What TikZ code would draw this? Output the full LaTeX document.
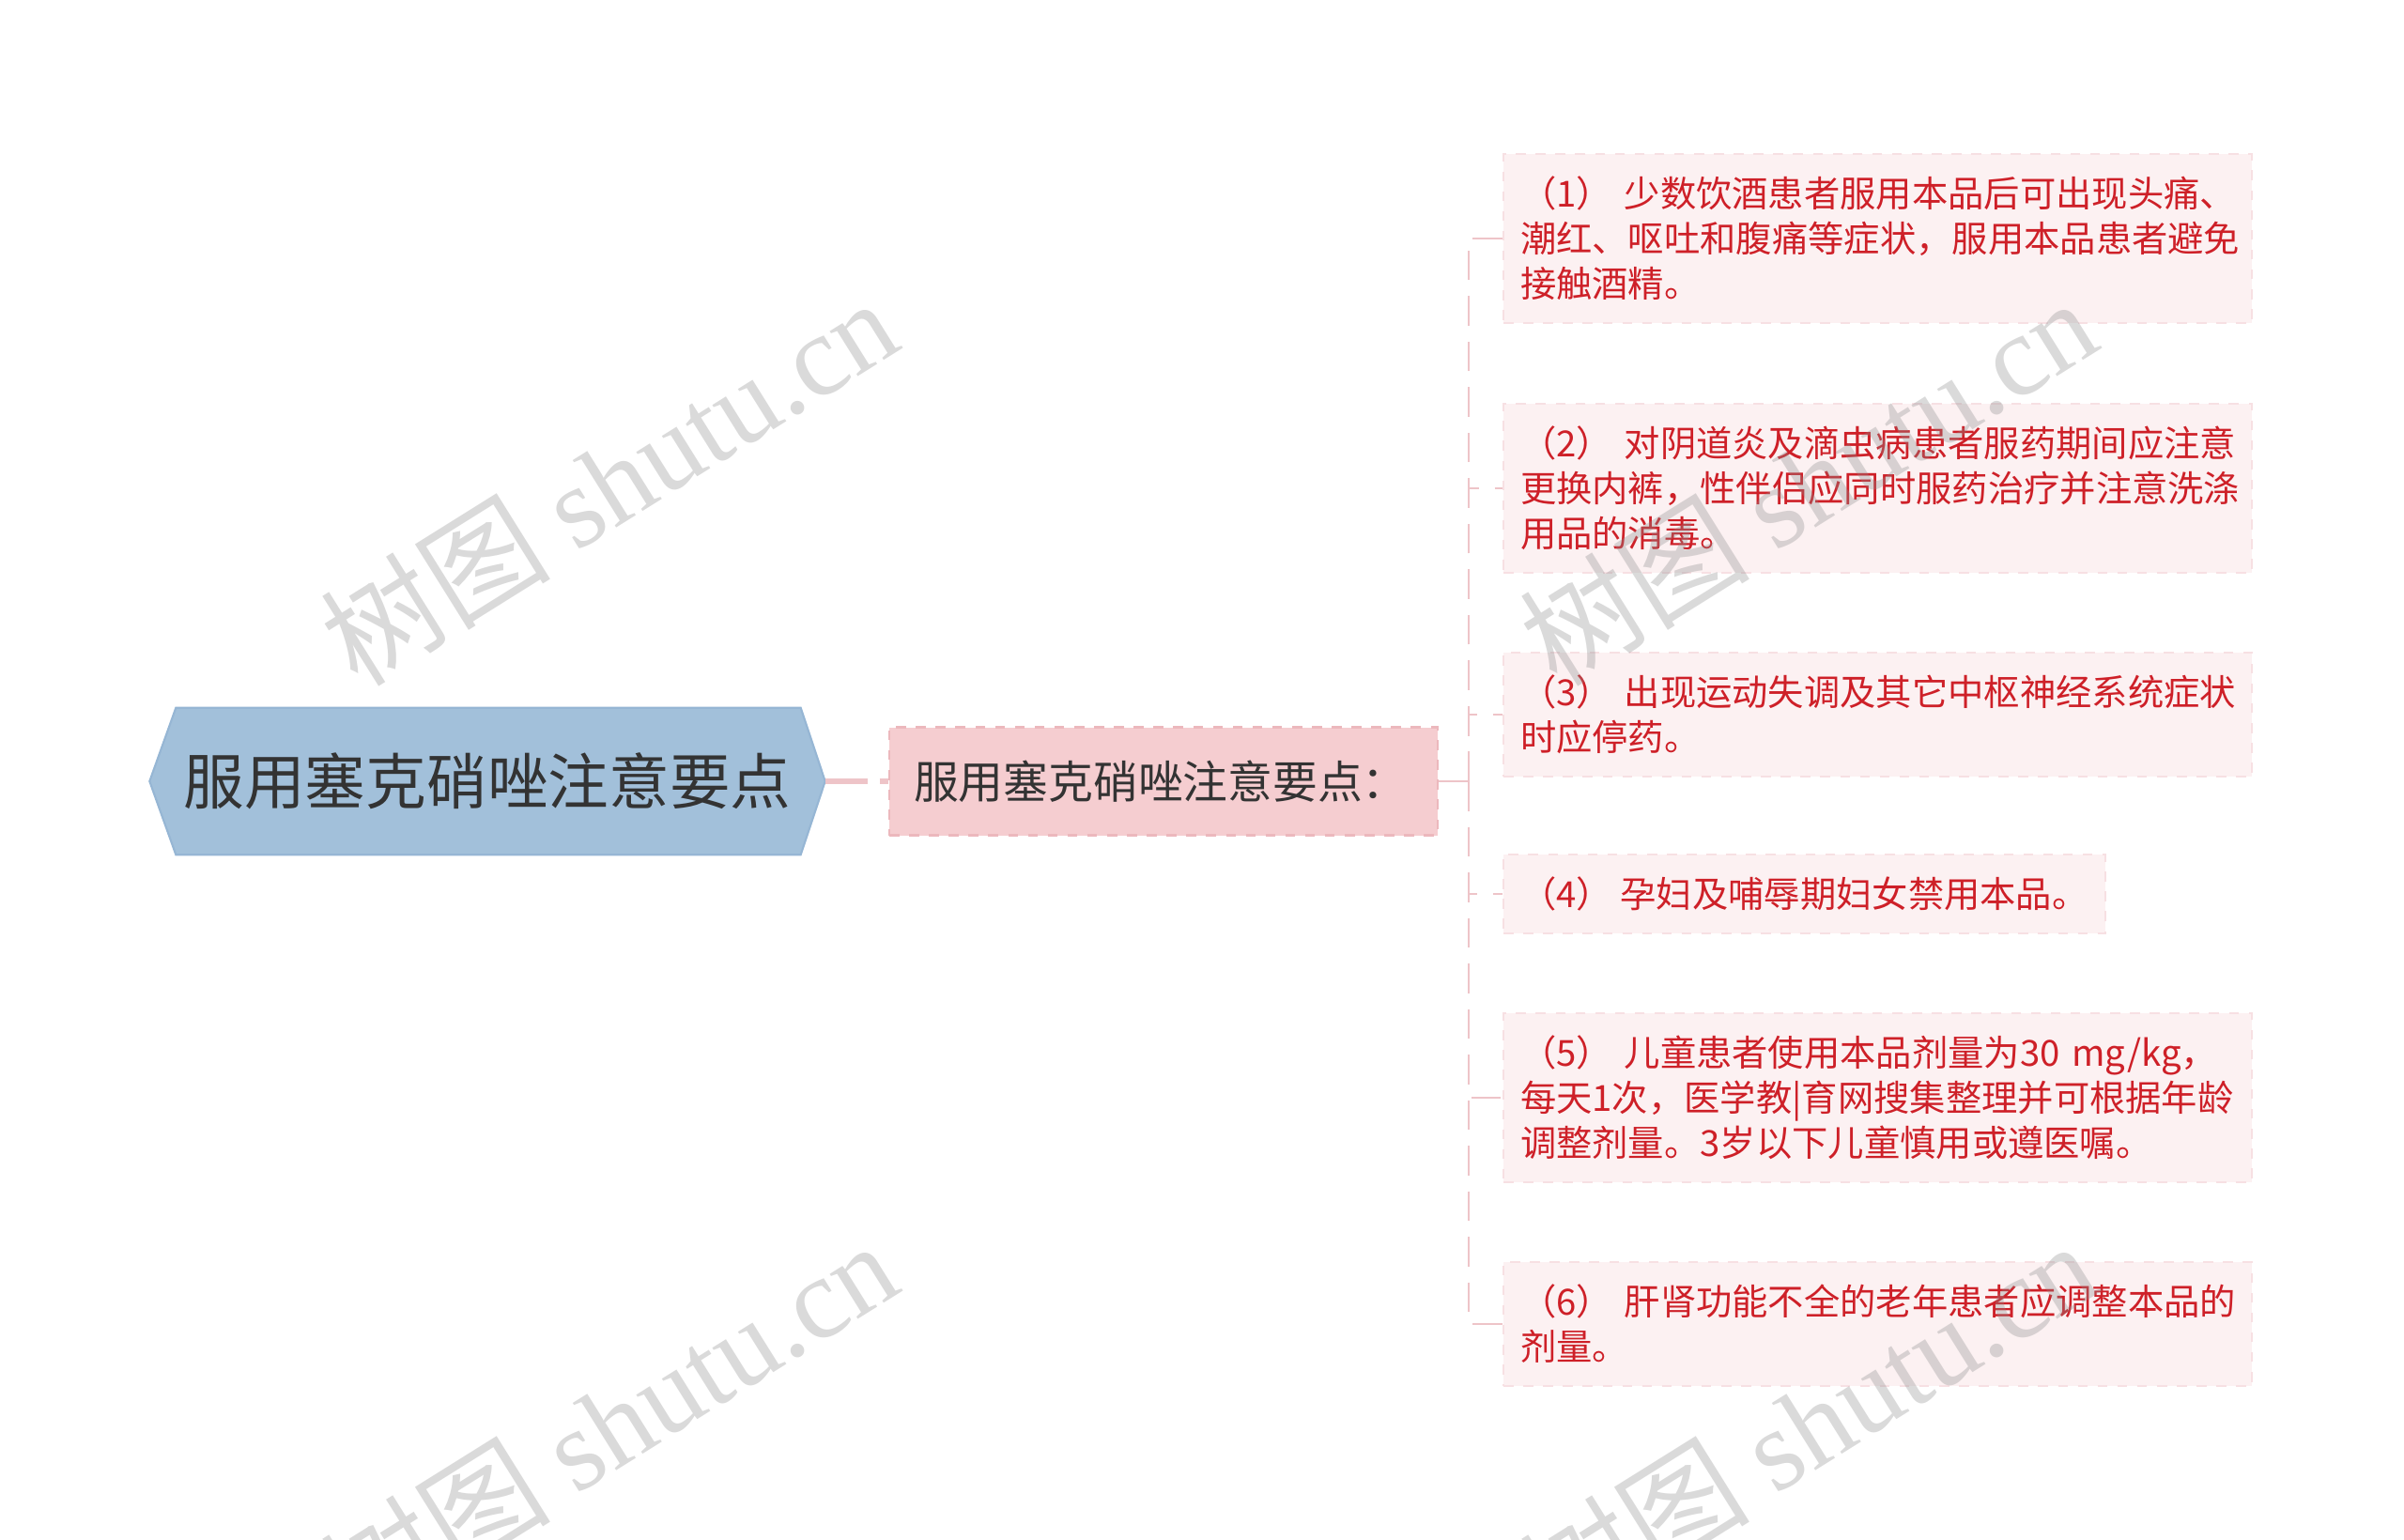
\documentclass[tikz,border=0pt]{standalone}
\usepackage{fontspec}
\setmainfont{Noto Sans CJK SC}
\newfontfamily\wmserif{Liberation Serif}
\usetikzlibrary{backgrounds}
\definecolor{rootfill}{RGB}{162,192,218}
\definecolor{rootedge}{RGB}{150,182,212}
\definecolor{darktext}{RGB}{51,51,51}
\definecolor{subfill}{RGB}{245,205,208}
\definecolor{subedge}{RGB}{236,184,189}
\definecolor{leaffill}{RGB}{252,241,242}
\definecolor{leafedge}{RGB}{247,224,227}
\definecolor{leafred}{RGB}{206,32,40}
\definecolor{linkpink}{RGB}{238,196,200}
\begin{document}
\begin{tikzpicture}
\tikzset{rootnode/.style={text=darktext, font=\fontsize{18.4pt}{22pt}\selectfont, minimum width=7.18cm, minimum height=1.55cm, inner sep=0pt},
subnode/.style={fill=subfill, draw=subedge, dashed, line width=0.8pt, text=darktext, font=\fontsize{13.6pt}{16pt}\selectfont, text width=5.32cm, align=left, inner xsep=0.26cm, minimum height=1.15cm},
leafnode/.style={anchor=west, fill=leaffill, draw=leafedge, dashed, line width=0.6pt, text=leafred, font=\fontsize{10.9pt}{13.66pt}\selectfont, align=left, inner xsep=0.18cm, inner ysep=0.24cm},
wideleaf/.style={leafnode, text width=7.61cm},
linkline/.style={draw=linkpink, line width=1.5pt, dash pattern=on 13pt off 3.5pt},
branchline/.style={draw=linkpink, line width=0.8pt, dash pattern=on 9pt off 4.8pt},
watermark/.style={rotate=32, text=black!45, text opacity=0.32, font=\fontsize{35pt}{40pt}\selectfont}}
\useasboundingbox (0,0) rectangle (25.6,-16.4);
\clip (0,0) rectangle (25.6,-16.4);
\node[rootnode] (root) at (5.19,-8.32) {服用塞克硝唑注意要点};
\begin{scope}[on background layer]
\filldraw[fill=rootfill, draw=rootedge, line width=0.6pt] (root.west) -- ([xshift=0.28cm]root.north west) -- ([xshift=-0.26cm]root.north east) -- (root.east) -- ([xshift=-0.26cm]root.south east) -- ([xshift=0.28cm]root.south west) -- cycle;
\end{scope}
\node[subnode] (sub) at (12.39,-8.32) {服用塞克硝唑注意要点：};
\coordinate (fork) at (15.64,-8.32);
\node[wideleaf] (leaf1) at (16.00,-2.54) {（1）~少数饮酒患者服用本品后可出现头痛、\\潮红、呕吐和腹痛等症状，服用本品患者避免\\接触酒精。};
\node[wideleaf] (leaf2) at (16.00,-5.20) {（2）~对阴道炎及滴虫病患者服药期间应注意\\更换内裤，性伴侣应同时服药治疗并注意洗涤\\用品的消毒。};
\node[wideleaf] (leaf3) at (16.00,-7.61) {（3）~出现运动失调及其它中枢神经系统症状\\时应停药。};
\node[leafnode] (leaf4) at (16.00,-9.52) {（4）~孕妇及哺辱期妇女禁用本品。};
\node[wideleaf] (leaf5) at (16.00,-11.69) {（5）~儿童患者使用本品剂量为30~mg/kg，\\每天1次，医学教|育网搜集整理并可根据年龄\\调整剂量。3岁以下儿童慎用或遵医嘱。};
\node[wideleaf] (leaf6) at (16.00,-14.10) {（6）~肝肾功能不全的老年患者应调整本品的\\剂量。};
\draw[linkline] (root) -- (sub);
\draw[branchline] (sub.east) -- (fork);
\draw[branchline] (fork) |- (leaf1.west);
\draw[branchline] (fork) |- (leaf2.west);
\draw[branchline] (fork) |- (leaf3.west);
\draw[branchline] (fork) |- (leaf4.west);
\draw[branchline] (fork) |- (leaf5.west);
\draw[branchline] (fork) |- (leaf6.west);
\node[watermark] (wm1) at (6.48,-5.12) {树图 {\wmserif shutu.cn}};
\node[watermark] (wm2) at (19.25,-5.12) {树图 {\wmserif shutu.cn}};
\node[watermark] (wm3) at (6.48,-15.16) {树图 {\wmserif shutu.cn}};
\node[watermark] (wm4) at (19.25,-15.16) {树图 {\wmserif shutu.cn}};
\end{tikzpicture}
\end{document}
